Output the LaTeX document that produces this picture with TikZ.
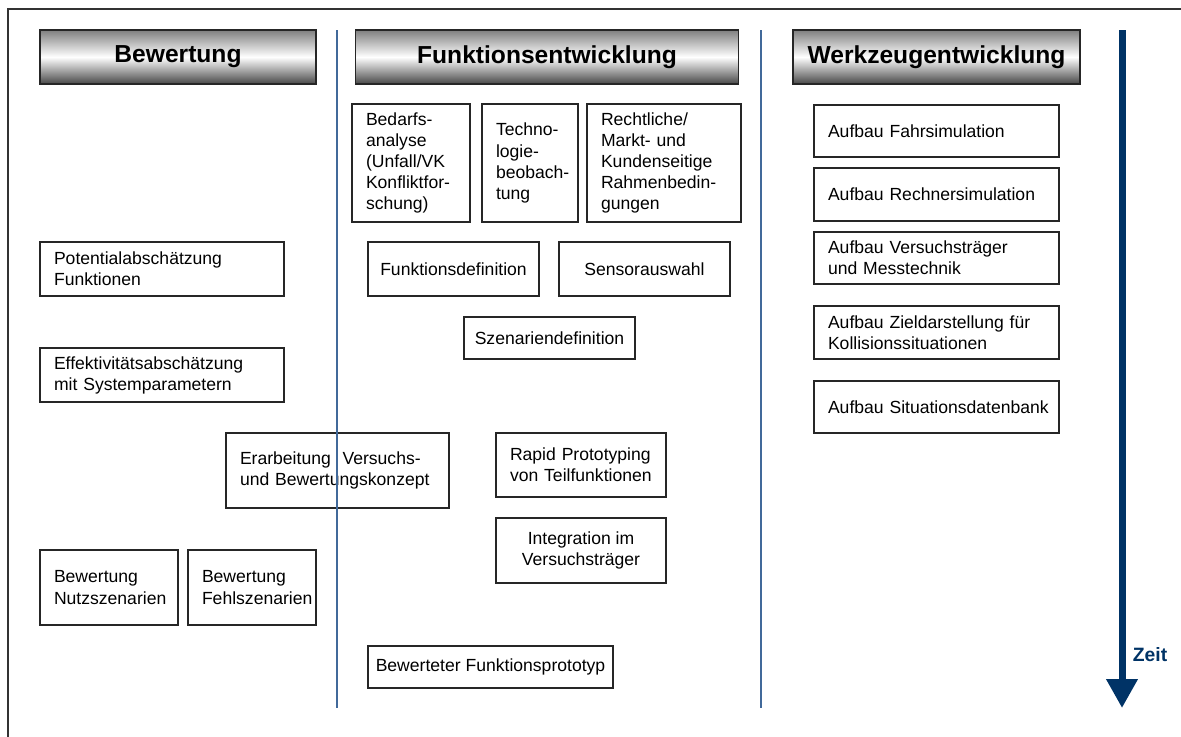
\documentclass[tikz,border=0pt]{standalone}
\usepackage{fontspec}
\setmainfont{Liberation Sans}
\usetikzlibrary{positioning,arrows.meta}
\definecolor{zeitblau}{HTML}{003366}
\definecolor{trennblau}{HTML}{41699A}
\hyphenpenalty=10000
\exhyphenpenalty=10000

\begin{document}
\begin{tikzpicture}[
    x=0.02cm, y=-0.02cm,
    headnode/.style={draw=black!85, line width=0.8pt, top color=black!50, bottom color=black!72, middle color=white, font=\fontsize{14}{16}\selectfont\bfseries, minimum height=1.08cm, inner sep=0pt},
    tasknode/.style={draw=black!85, line width=0.8pt, fill=white, font=\fontsize{10}{12}\selectfont, inner xsep=0.28cm, inner ysep=0pt, align=left},
    midnode/.style={draw=black!85, line width=0.8pt, fill=white, font=\fontsize{10}{12}\selectfont, inner xsep=2pt, inner ysep=0pt, align=center},
    sepline/.style={draw=trennblau, line width=0.7pt},
    timearrow/.style={draw=zeitblau, line width=0.14cm, -{Triangle[width=0.6cm, length=0.58cm]}}
]

    % Rahmen und Bildgrenzen
    \useasboundingbox (0,0) rectangle (1181,737);
    \draw[black!80, line width=0.9pt] (8,737) -- (8,9) -- (1181,9);

    % Spaltenkoepfe
    \node[headnode, minimum width=5.52cm] (hbew) at (178,57) {Bewertung};
    \node[headnode, minimum width=7.66cm] (hfkt) at (547,57) {Funktionsentwicklung};
    \node[headnode, minimum width=5.74cm] (hwkz) at (936.5,57) {Werkzeugentwicklung};

    % Spalte Bewertung
    \node[tasknode, text width=4.32cm, minimum height=1.08cm] (potfkt) at (162,269) {Potentialabschätzung\\Funktionen};
    \node[tasknode, text width=4.32cm, minimum height=1.08cm] (effekt) at (162,375) {Effektivitätsabschätzung\\mit Systemparametern};
    \node[tasknode, text width=3.90cm, minimum height=1.50cm] (erarb) at (337.5,470.5) {Erarbeitung \ Versuchs-\\und Bewertungskonzept};
    \node[tasknode, text width=2.20cm, minimum height=1.50cm] (nutz) at (109,587.5) {Bewertung\\Nutzszenarien};
    \node[tasknode, text width=2.00cm, minimum height=1.50cm] (fehl) at (252,587.5) {Bewertung\\Fehlszenarien};

    % Spalte Funktionsentwicklung
    \node[tasknode, text width=1.80cm, minimum height=2.36cm] (bedarf) at (411,163) {Bedarfs-\\analyse\\(Unfall/VK\\Konfliktfor-\\schung)};
    \node[tasknode, text width=1.36cm, minimum height=2.36cm] (techno) at (530,163) {Techno-\\logie-\\beobach-\\tung};
    \node[tasknode, text width=2.52cm, minimum height=2.36cm] (recht) at (664,163) {Rechtliche/\\Markt- und\\Kundenseitige\\Rahmenbedin-\\gungen};
    \node[midnode, minimum width=3.42cm, minimum height=1.08cm] (fktdef) at (453.5,269) {Funktionsdefinition};
    \node[midnode, minimum width=3.42cm, minimum height=1.08cm] (sensor) at (644.5,269) {Sensorauswahl};
    \node[midnode, minimum width=3.42cm, minimum height=0.84cm] (szen) at (549.5,338) {Szenariendefinition};
    \node[tasknode, text width=2.84cm, minimum height=1.28cm] (rapid) at (581,465) {Rapid Prototyping\\von Teilfunktionen};
    \node[midnode, minimum width=3.40cm, minimum height=1.30cm] (integ) at (581,550.5) {Integration im\\Versuchsträger};
    \node[midnode, minimum width=4.90cm, minimum height=0.84cm] (proto) at (490.5,667) {Bewerteter Funktionsprototyp};

    % Spalte Werkzeugentwicklung
    \node[tasknode, text width=4.34cm, minimum height=1.04cm] (fahrsim) at (936.5,131) {Aufbau Fahrsimulation};
    \node[tasknode, text width=4.34cm, minimum height=1.06cm] (rechsim) at (936.5,194.5) {Aufbau Rechnersimulation};
    \node[tasknode, text width=4.34cm, minimum height=1.04cm] (vtraeger) at (936.5,258) {Aufbau Versuchsträger\\und Messtechnik};
    \node[tasknode, text width=4.34cm, minimum height=1.06cm] (zieldar) at (936.5,332.5) {Aufbau Zieldarstellung für\\Kollisionssituationen};
    \node[tasknode, text width=4.34cm, minimum height=1.04cm] (sitdb) at (936.5,407) {Aufbau~Situationsdatenbank};

    % Trennlinien (ueber den Kaesten)
    \coordinate (t1o) at (337,30);
    \coordinate (t1u) at (337,708);
    \coordinate (t2o) at (761,30);
    \coordinate (t2u) at (761,708);
    \draw[sepline] (t1o) -- (t1u);
    \draw[sepline] (t2o) -- (t2u);

    % Zeitachse
    \coordinate (zo) at (1122,30);
    \coordinate (zu) at (1122,708);
    \draw[timearrow] (zo) -- (zu);
    \node[text=zeitblau, font=\fontsize{11}{13}\selectfont\bfseries] (zeit) at (1150,655) {Zeit};

\end{tikzpicture}
\end{document}
